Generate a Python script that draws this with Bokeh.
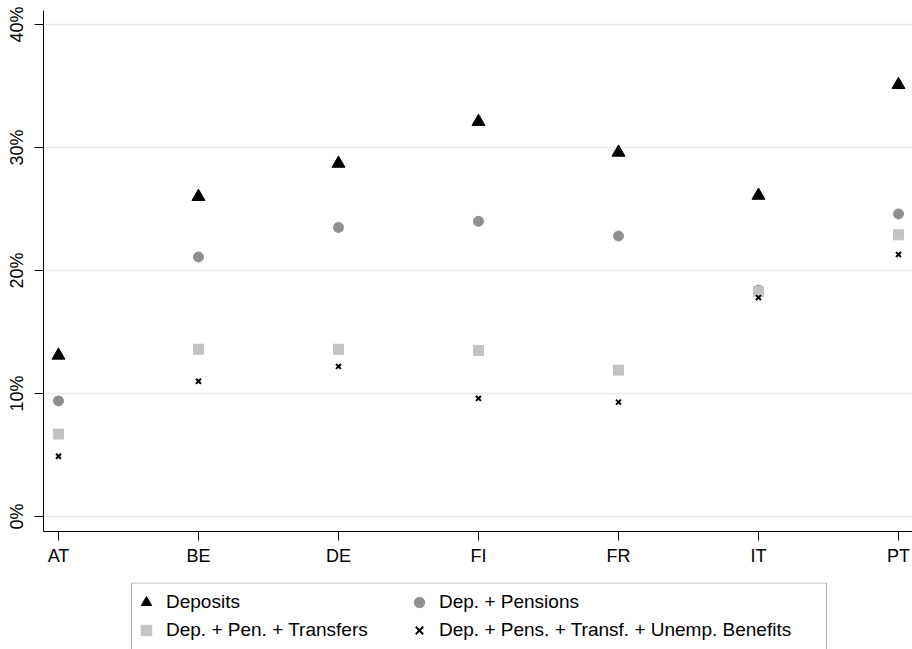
from bokeh.plotting import figure
from bokeh.models import Range1d, FixedTicker, Legend, LegendItem, ColumnDataSource, BoxAnnotation
from bokeh.layouts import column
from bokeh.embed import file_html
from bokeh.resources import INLINE

# ---- data (percent) ----
countries = ["AT", "BE", "DE", "FI", "FR", "IT", "PT"]
deposits = [13.1, 26.0, 28.7, 32.1, 29.6, 26.1, 35.1]
pensions = [9.4, 21.1, 23.5, 24.0, 22.8, 18.4, 24.6]
transfers = [6.7, 13.6, 13.6, 13.5, 11.9, 18.3, 22.9]
unemp = [4.9, 11.0, 12.2, 9.6, 9.3, 17.8, 21.3]
y_ticks = [0, 10, 20, 30, 40]
y_tick_labels = ["0%", "10%", "20%", "30%", "40%"]
series_names = ["Deposits", "Dep. + Pensions", "Dep. + Pen. + Transfers",
                "Dep. + Pens. + Transf. + Unemp. Benefits"]

FONT = "Liberation Sans"
xpos = list(range(len(countries)))
src = ColumnDataSource(dict(x=xpos, dep=deposits, pen=pensions, tra=transfers, une=unemp))

W = 912
p = figure(width=W, height=571, output_backend="svg", toolbar_location=None,
           x_range=Range1d(-0.107, 6.1), y_range=Range1d(-1.22, 41.14),
           min_border_left=43, min_border_right=0, min_border_top=10, min_border_bottom=40)
p.outline_line_color = None
p.background_fill_color = "white"
p.border_fill_color = "white"

p.xgrid.grid_line_color = None
p.ygrid.grid_line_color = "#e9e9e9"
p.ygrid.grid_line_width = 1.5

p.yaxis.ticker = FixedTicker(ticks=y_ticks)
p.yaxis.major_label_overrides = {t: l for t, l in zip(y_ticks, y_tick_labels)}
p.yaxis.major_label_orientation = "vertical"
p.xaxis.ticker = FixedTicker(ticks=xpos)
p.xaxis.major_label_overrides = {i: c for i, c in zip(xpos, countries)}

for ax in (p.xaxis[0], p.yaxis[0]):
    ax.minor_tick_line_color = None
    ax.major_tick_in = 0
    ax.major_tick_out = 9
    ax.major_tick_line_color = "black"
    ax.axis_line_color = "black"
    ax.major_label_text_font = FONT
    ax.major_label_text_font_size = "18px"
    ax.major_label_text_color = "black"
p.yaxis.major_label_standoff = 7
p.xaxis.major_label_standoff = 5

p.scatter("x", "dep", source=src, marker="triangle", size=13, color="black")
p.scatter("x", "pen", source=src, marker="circle", size=10, color="#8f8f8f")
p.scatter("x", "tra", source=src, marker="square", size=10, color="#c3c3c3")
p.scatter("x", "une", source=src, marker="x", size=7, line_color="black", line_width=2)

# ---- legend panel (same series; its y range lies above all values, so only the legend shows) ----
p2 = figure(width=W, height=78, output_backend="svg", toolbar_location=None,
            x_range=Range1d(0, 869), y_range=Range1d(100, 167),
            x_axis_type=None, y_axis_type=None,
            min_border_left=43, min_border_right=0, min_border_top=11, min_border_bottom=0)
p2.grid.visible = False
p2.outline_line_color = None
p2.background_fill_color = "white"
p2.border_fill_color = "white"

r1 = p2.scatter("x", "dep", source=src, marker="triangle", size=13, color="black")
r2 = p2.scatter("x", "pen", source=src, marker="circle", size=10, color="#8f8f8f")
r3 = p2.scatter("x", "tra", source=src, marker="square", size=10, color="#c3c3c3")
r4 = p2.scatter("x", "une", source=src, marker="x", size=7, line_color="black", line_width=2)

box = BoxAnnotation(left=88, right=783, bottom=80, top=166.5,
                    fill_alpha=0, line_color="black", line_width=1, level="overlay")
p2.add_layout(box)


def make_legend(items, loc):
    lg = Legend(items=items, location=loc)
    lg.padding = 0
    lg.margin = 0
    lg.spacing = 2
    lg.glyph_width = 26
    lg.glyph_height = 26
    lg.label_standoff = 7
    lg.label_text_font = FONT
    lg.label_text_font_size = "19px"
    lg.label_text_color = "black"
    lg.border_line_color = None
    lg.background_fill_alpha = 0
    return lg


leg1 = make_legend([LegendItem(label=series_names[0], renderers=[r1]),
                    LegendItem(label=series_names[2], renderers=[r3])], (90, 6))
leg2 = make_legend([LegendItem(label=series_names[1], renderers=[r2]),
                    LegendItem(label=series_names[3], renderers=[r4])], (363, 6))
p2.add_layout(leg1)
p2.add_layout(leg2)

layout = column(p, p2, spacing=0)
open("out.html", "w").write(file_html(layout, INLINE))
